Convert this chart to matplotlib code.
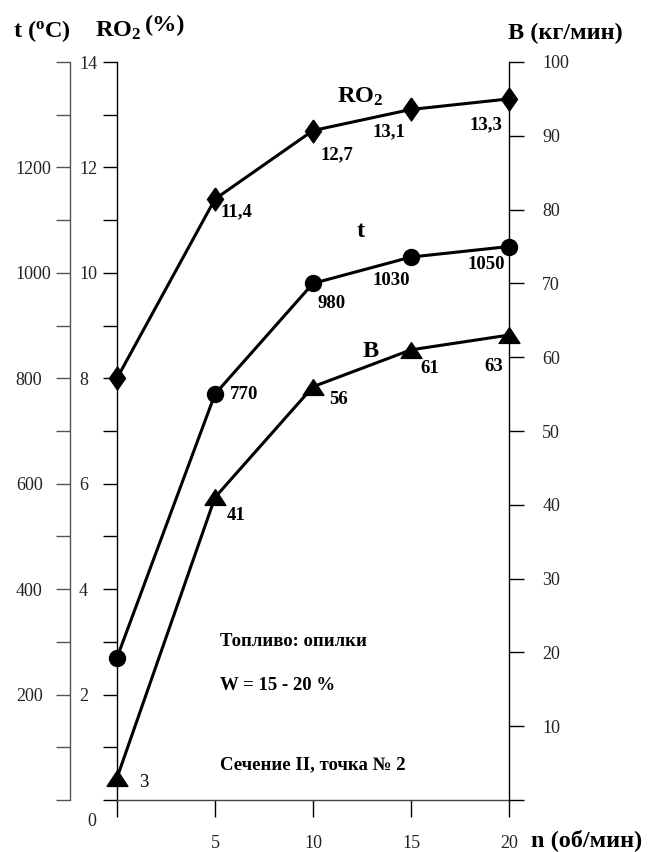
import matplotlib.pyplot as plt
from matplotlib.path import Path

plt.rcParams['font.family'] = ['Liberation Serif', 'DejaVu Serif']
plt.rcParams['mathtext.fontset'] = 'custom'
plt.rcParams['mathtext.rm'] = 'Liberation Serif:bold'
plt.rcParams['mathtext.it'] = 'Liberation Serif:bold'
plt.rcParams['mathtext.bf'] = 'Liberation Serif:bold'

# data
n = [0, 5, 10, 15, 20]
ro2 = [8, 11.4, 12.7, 13.1, 13.3]
temp = [270, 770, 980, 1030, 1050]
flow = [3, 41, 56, 61, 63]

ro2_text = ['', '11,4', '12,7', '13,1', '13,3']
temp_text = ['', '770', '980', '1030', '1050']
flow_text = ['3', '41', '56', '61', '63']

W, H = 656, 852
fig = plt.figure(figsize=(W / 100, H / 100), dpi=100)


def fx(x):
    return x / W


def fy(y):
    return 1 - y / H


ax = fig.add_axes([fx(117), fy(800), 392 / W, 738 / H])
ax_t = ax.twinx()
ax_b = ax.twinx()
for a in (ax, ax_t, ax_b):
    a.patch.set_visible(False)
    for s in a.spines.values():
        s.set_visible(False)

tick_font = dict(fontsize=13, color='#222222')

# RO2 axis (inner left)
ax.set_xlim(0, 20)
ax.set_ylim(0, 14)
ax.spines['left'].set_visible(True)
ax.spines['left'].set_linewidth(1.0)
ax.spines['bottom'].set_visible(True)
ax.spines['bottom'].set_linewidth(1.0)
ax.spines['bottom'].set_color('#444444')
ax.set_yticks(range(15))
ax.set_yticklabels(['' if (v % 2 or v == 0) else str(v) for v in range(15)], **tick_font)
for lb in ax.get_yticklabels():
    lb.set_horizontalalignment('left')
ax.tick_params(axis='y', direction='out', length=10, width=1.0, pad=17.3)
ax.set_xticks(n)
ax.set_xticklabels([''] + [str(v) for v in n[1:]], **tick_font)
ax.tick_params(axis='x', direction='out', length=12, width=1.0, pad=13)

# t axis (outer left)
ax_t.set_ylim(0, 1400)
ax_t.yaxis.tick_left()
ax_t.spines['left'].set_visible(True)
ax_t.spines['left'].set_position(('outward', 47 * 0.72))
ax_t.spines['left'].set_color('#555555')
ax_t.spines['left'].set_linewidth(1.0)
ax_t.set_yticks(range(0, 1401, 100))
ax_t.set_yticklabels([str(v) if v % 200 == 0 and 0 < v < 1400 else '' for v in range(0, 1401, 100)], **tick_font)
for lb in ax_t.get_yticklabels():
    lb.set_horizontalalignment('left')
ax_t.tick_params(axis='y', direction='out', length=10, width=1.0, pad=29, color='#555555')

# B axis (right)
ax_b.set_ylim(0, 100)
ax_b.spines['right'].set_visible(True)
ax_b.spines['right'].set_linewidth(1.0)
ax_b.set_yticks(range(0, 101, 10))
ax_b.set_yticklabels(['' if v == 0 else str(v) for v in range(0, 101, 10)], **tick_font)
ax_b.tick_params(axis='y', direction='out', length=11, width=1.0, pad=13)

diamond = Path([(0, 1), (0.7, 0), (0, -1), (-0.7, 0), (0, 1)])
triangle = Path([(0, 0.76), (1, -0.76), (-1, -0.76), (0, 0.76)])

ax.plot(n, ro2, color='black', lw=2.2, marker=diamond, ms=16.5, clip_on=False)
ax_t.plot(n, temp, color='black', lw=2.2, marker='o', ms=11.5, clip_on=False)
ax_b.plot(n, flow, color='black', lw=2.2, marker=triangle, ms=15, clip_on=False)

lbl = dict(fontsize=13.5, fontweight='bold', textcoords='offset pixels', va='center')
ro2_off = [None, (5, -13, 'left'), (7, -24, 'left'), (-6, -22, 'right'), (-7, -26, 'right')]
temp_off = [None, (15, 0, 'left'), (4, -20, 'left'), (-1, -23, 'right'), (-4, -18, 'right')]
flow_off = [(22, -5, 'left'), (12, -18, 'left'), (16, -13, 'left'), (9, -19, 'left'), (-6, -31, 'right')]

for a, ys, texts, offs in ((ax, ro2, ro2_text, ro2_off),
                           (ax_t, temp, temp_text, temp_off),
                           (ax_b, flow, flow_text, flow_off)):
    for x, y, s, o in zip(n, ys, texts, offs):
        if not s:
            continue
        kw = dict(lbl)
        if a is ax_b and x == 0:
            kw['fontweight'] = 'normal'
        a.annotate(s, (x, y), xytext=(o[0], o[1]), ha=o[2], annotation_clip=False, **kw)

# headers and names
head = dict(fontsize=17.5, fontweight='bold', va='baseline')
fig.text(fx(13), fy(37), r't ($^{\mathrm{o}}$C)', **head)
fig.text(fx(95), fy(37), r'RO$_2$', **head)
fig.text(fx(145), fy(31), '(%)', **head)
fig.text(fx(508), fy(39), 'B (кг/мин)', **head)
fig.text(fx(531), fy(846), 'n (об/мин)', **head)
fig.text(fx(87), fy(822), '0', va='center', **tick_font)

fig.text(fx(337), fy(103), r'RO$_2$', **head)
fig.text(fx(357), fy(237), 't', **head)
fig.text(fx(363), fy(357), 'B', **head)

note = dict(fontsize=13.5, fontweight='bold', va='center')
fig.text(fx(220), fy(642), 'Топливо: опилки', **note)
fig.text(fx(220), fy(685), 'W = 15 - 20 %', **note)
fig.text(fx(220), fy(765), 'Сечение II, точка № 2', **note)

fig.savefig('out.png', dpi=100)
